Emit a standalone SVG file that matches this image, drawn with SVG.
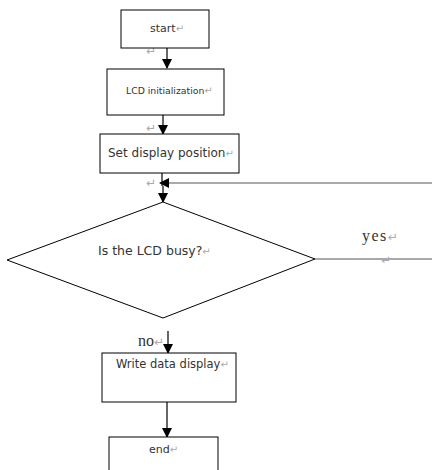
<svg xmlns="http://www.w3.org/2000/svg" width="432" height="470" viewBox="0 0 432 470">
<defs>
<marker id="ah" markerWidth="10" markerHeight="10" refX="9" refY="5" orient="auto" markerUnits="userSpaceOnUse">
<path d="M0,0 L10,5 L0,10 Z" fill="#000"/>
</marker>
</defs>
<style>
.box{fill:#fff;stroke:#000;stroke-width:1}
.t{font-family:"DejaVu Sans","Noto Sans",sans-serif;fill:#333}
.s{font-family:"Liberation Serif",serif;fill:#333;font-size:16px}
.pm{font-family:"DejaVu Sans",sans-serif;fill:#aaa;font-size:10px}
.pb{font-family:"DejaVu Sans",sans-serif;fill:#aaa;font-size:12px}
.ln{stroke:#000;stroke-width:1.2;fill:none}
.gl{stroke:#555;stroke-width:1.2;fill:none}
</style>
<rect width="432" height="470" fill="#fff"/>
<g id="connectors">
<line class="ln" x1="167" y1="48" x2="167" y2="68" marker-end="url(#ah)"/>
<line class="ln" x1="163" y1="115" x2="163" y2="134" marker-end="url(#ah)"/>
<line class="ln" x1="162" y1="173" x2="162" y2="186"/>
<line class="gl" x1="432" y1="183" x2="160" y2="183" marker-end="url(#ah)"/>
<line class="ln" x1="163" y1="186" x2="163" y2="202" marker-end="url(#ah)"/>
<line class="gl" x1="315" y1="259" x2="432" y2="259"/>
<line class="ln" x1="168" y1="331" x2="168" y2="353" marker-end="url(#ah)"/>
<line class="ln" x1="167" y1="402" x2="167" y2="437" marker-end="url(#ah)"/>
<text class="s" x="362" y="241" letter-spacing="1.5">yes<tspan class="pb" letter-spacing="0">↵</tspan></text>
<text class="s" x="138" y="346">no<tspan class="pb">↵</tspan></text>
<text class="pb" x="146" y="55">↵</text>
<text class="pb" x="146" y="132">↵</text>
<text class="pb" x="146" y="187">↵</text>
<text class="pb" x="381" y="264">↵</text>
</g>
<g id="start">
<rect class="box" x="121" y="10" width="88" height="38"/>
<text class="t" x="150" y="32" font-size="11">start<tspan class="pm">↵</tspan></text>
</g>
<g id="lcd-init">
<rect class="box" x="107" y="69" width="117" height="46"/>
<text class="t" x="126" y="94" font-size="9.3">LCD initialization<tspan class="pm" font-size="8">↵</tspan></text>
</g>
<g id="set-position">
<rect class="box" x="100" y="134" width="139" height="39"/>
<text class="t" x="108" y="157" font-size="12">Set display position<tspan class="pm">↵</tspan></text>
</g>
<g id="busy">
<polygon class="box" points="163,202 315,259 163,318 7,260"/>
<text class="t" x="98" y="255" font-size="12.5">Is the LCD busy?<tspan class="pm">↵</tspan></text>
</g>
<g id="write">
<rect class="box" x="102" y="353" width="134" height="49"/>
<text class="t" x="116" y="368" font-size="11.5">Write data display<tspan class="pm">↵</tspan></text>
</g>
<g id="end">
<rect class="box" x="109" y="437" width="109" height="40"/>
<text class="t" x="149" y="453" font-size="11">end<tspan class="pm">↵</tspan></text>
</g>
</svg>
